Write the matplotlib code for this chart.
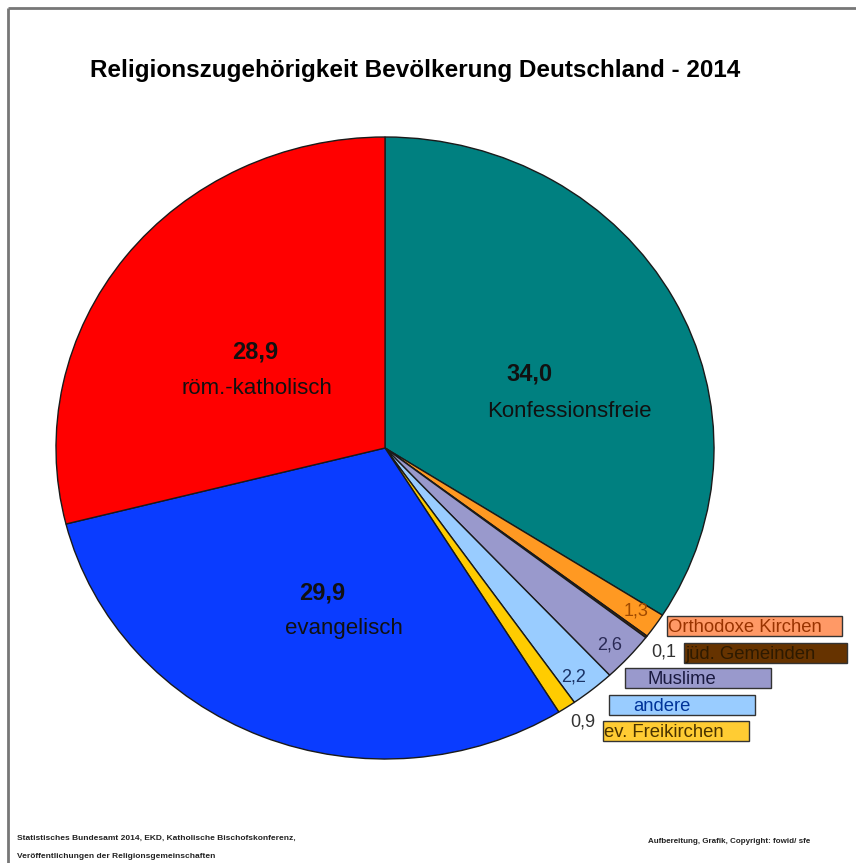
import matplotlib.pyplot as plt
from matplotlib.patches import Rectangle

# Anteile in Prozent, im Uhrzeigersinn ab 12 Uhr
groups = ['Konfessionsfreie', 'Orthodoxe Kirchen', 'jüd. Gemeinden', 'Muslime',
          'andere', 'ev. Freikirchen', 'evangelisch', 'röm.-katholisch']
shares = [34.0, 1.3, 0.1, 2.6, 2.2, 0.9, 29.9, 28.9]
colors = ['#008080', '#FF9922', '#663300', '#9999CC',
          '#99CCFF', '#FFCC00', '#0A3CFF', '#FF0000']

W, H = 856, 863
plt.rcParams['font.family'] = ['Liberation Sans', 'DejaVu Sans']

fig = plt.figure(figsize=(W / 100, H / 100), dpi=100)
fig.patch.set_facecolor('white')

# Kreisdiagramm (leicht oval wie im Original)
cx, cy, rx, ry = 385, 448, 329, 311
ax = fig.add_axes([(cx - rx) / W, (H - cy - ry) / H, 2 * rx / W, 2 * ry / H])
ax.pie(shares, colors=colors, startangle=90, counterclock=False,
       wedgeprops=dict(edgecolor='#1a1a1a', linewidth=1.0))
ax.set_aspect('auto')
ax.set_xlim(-1, 1)
ax.set_ylim(-1, 1)

# Overlay in Pixelkoordinaten für Texte und Rahmen
ov = fig.add_axes([0, 0, 1, 1])
ov.set_xlim(0, W)
ov.set_ylim(H, 0)
ov.axis('off')

ov.plot([8, 8], [8, H], color='#777777', lw=2, solid_capstyle='butt')
ov.plot([8, W], [8, 8], color='#777777', lw=2, solid_capstyle='butt')

ov.text(90, 70, 'Religionszugehörigkeit Bevölkerung Deutschland - 2014',
        fontsize=17.5, fontweight='bold', ha='left', va='center')

# Beschriftungen der großen Segmente
big = [(255, 352, '28,9', 257, 388, 'röm.-katholisch'),
       (529, 374, '34,0', 569, 411, 'Konfessionsfreie'),
       (322, 593, '29,9', 344, 628, 'evangelisch')]
for x1, y1, val, x2, y2, name in big:
    ov.text(x1, y1, val, fontsize=17, fontweight='bold', ha='center', va='center', color='#111111')
    ov.text(x2, y2, name, fontsize=16, ha='center', va='center', color='#111111')

# kleine Werte
small_vals = [(636, 611, '1,3', '#A04A00'), (610, 645, '2,6', '#2A2A55'),
              (664, 652, '0,1', '#333333'), (574, 677, '2,2', '#1A3366'),
              (583, 722, '0,9', '#333333')]
for x, y, t, c in small_vals:
    ov.text(x, y, t, fontsize=13, ha='center', va='center', color=c)

# Kästchen-Legende
boxes = [(667, 616, 842, 636, '#FF9966', 'Orthodoxe Kirchen', 668, '#993300'),
         (684, 643, 847, 663, '#663300', 'jüd. Gemeinden', 685, '#2E1A00'),
         (625, 668, 771, 688, '#9999CC', 'Muslime', 648, '#1A1A40'),
         (609, 695, 755, 715, '#99CCFF', 'andere', 633, '#003399'),
         (603, 721, 749, 741, '#FFCC33', 'ev. Freikirchen', 604, '#4A3300')]
for x0, y0, x1, y1, fc, t, tx, tc in boxes:
    ov.add_patch(Rectangle((x0, y0), x1 - x0, y1 - y0, facecolor=fc,
                           edgecolor='#333333', linewidth=1.0))
    ov.text(tx, (y0 + y1) / 2 + 1, t, fontsize=13.3, ha='left', va='center', color=tc)

# Quellen
foot = ['Liberation Sans Narrow', 'Liberation Sans', 'DejaVu Sans']
ov.text(17, 838, 'Statistisches Bundesamt 2014, EKD, Katholische Bischofskonferenz,',
        fontsize=6, family=foot, fontweight='bold', ha='left', va='center', color='#222222')
ov.text(17, 856, 'Veröffentlichungen der Religionsgemeinschaften',
        fontsize=6, family=foot, fontweight='bold', ha='left', va='center', color='#222222')
ov.text(648, 841, 'Aufbereitung, Grafik, Copyright: fowid/ sfe',
        fontsize=5.8, family=foot, fontweight='bold', ha='left', va='center', color='#222222')

fig.savefig('out.png', dpi=100)
